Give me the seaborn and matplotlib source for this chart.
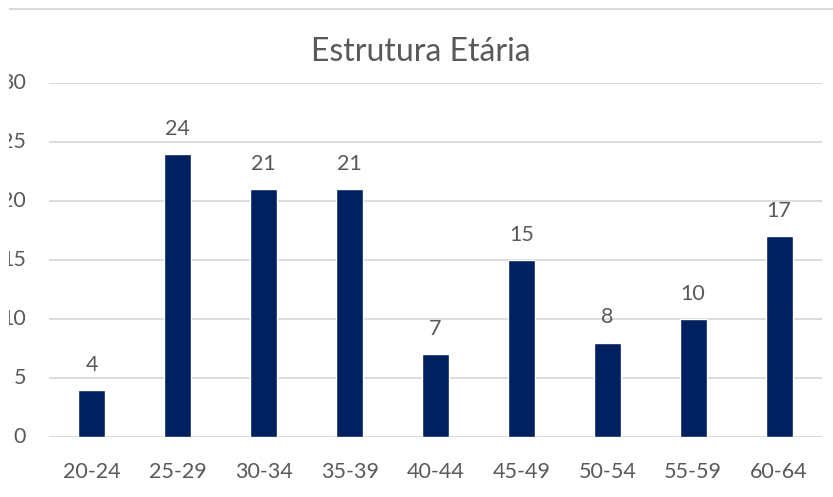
import matplotlib
matplotlib.use("Agg")
import matplotlib.pyplot as plt
import seaborn as sns
import pandas as pd
from matplotlib.lines import Line2D
from matplotlib.patches import Rectangle

# Age groups and head counts
age_groups = ["20-24", "25-29", "30-34", "35-39", "40-44", "45-49", "50-54", "55-59", "60-64"]
counts = [4, 24, 21, 21, 7, 15, 8, 10, 17]
y_ticks = [0, 5, 10, 15, 20, 25, 30]

sns.set_style("white")
plt.rcParams["font.family"] = ["Lato", "DejaVu Sans"]

text_gray = "#595959"
grid_gray = "#d9d9d9"
bar_blue = "#002060"

df = pd.DataFrame({"faixa": age_groups, "n": counts})

W, H = 833, 497
fig = plt.figure(figsize=(W / 100, H / 100), dpi=100)
ax = fig.add_axes([49 / W, 60 / H, (822 - 49) / W, (437 - 83) / H])

sns.barplot(data=df, x="faixa", y="n", color=bar_blue, width=0.315,
            saturation=1, ax=ax, zorder=3)

ax.set_ylim(0, 30)
ax.set_xlim(-0.5, len(age_groups) - 0.5)
ax.set_yticks(y_ticks)
ax.set_xlabel("")
ax.set_ylabel("")
for s in ax.spines.values():
    s.set_visible(False)
ax.yaxis.grid(True, color=grid_gray, linewidth=1.3, zorder=0)
ax.xaxis.grid(False)
ax.tick_params(axis="x", length=0, pad=18, labelsize=15.5, labelcolor=text_gray)
ax.tick_params(axis="y", length=0, labelleft=False)

# y-axis labels, right-aligned just left of the gridlines
for v in y_ticks:
    ax.annotate(str(v), xy=(0, v), xycoords=("axes fraction", "data"),
                xytext=(-(49 - 26) * 0.72, 0), textcoords="offset points",
                ha="right", va="center", fontsize=15.5, color=text_gray,
                annotation_clip=False)

for c in ax.containers:
    ax.bar_label(c, labels=[str(v) for v in counts], padding=11,
                 fontsize=15.5, color=text_gray)

fig.text(421 / W, 1 - 52 / H, "Estrutura Etária", ha="center", va="center",
         fontsize=23, color=text_gray)

# chart frame top edge
fig.add_artist(Line2D([7 / W, 1], [1 - 8.5 / H, 1 - 8.5 / H],
                      transform=fig.transFigure, color=grid_gray, linewidth=1.5))

# left margin of the frame is cut away
fig.add_artist(Rectangle((0, 0), 9 / W, 1, transform=fig.transFigure,
                         facecolor="white", edgecolor="none", zorder=10))

fig.savefig("out.png", dpi=100)
